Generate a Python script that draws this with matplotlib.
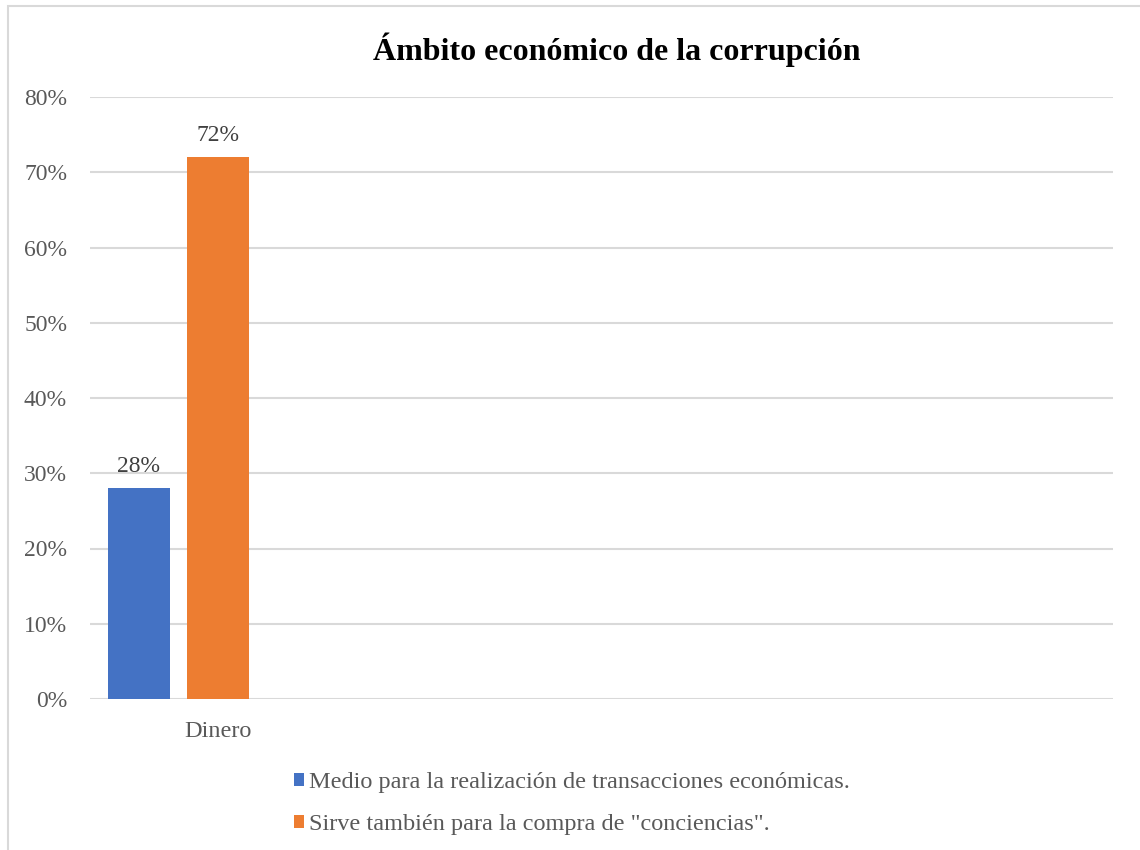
import matplotlib.pyplot as plt
from matplotlib.patches import Rectangle, Patch
from matplotlib.ticker import PercentFormatter

# Data
categories = ["Dinero"]
series_names = ["Medio para la realización de transacciones económicas.",
                "Sirve también para la compra de \"conciencias\"."]
series_values = [[0.28], [0.72]]
series_colors = ["#4472C4", "#ED7D31"]
title = "Ámbito económico de la corrupción"

plt.rcParams['font.family'] = ['Liberation Serif', 'DejaVu Serif']

fig = plt.figure(figsize=(11.4, 8.5), dpi=100)
ax = fig.add_axes([90 / 1140, 1 - 699 / 850, 1023 / 1140, 602 / 850])

# chart border (Excel-like frame)
fig.patches.append(Rectangle((8 / 1140, -0.1), 1.2, 1 - 6 / 850 + 0.1,
                             transform=fig.transFigure, fill=False,
                             edgecolor="#d9d9d9", linewidth=1.5))

bar_w = 0.242
offsets = [-0.309, 0.0]
for vals, off, col in zip(series_values, offsets, series_colors):
    xs = [i + off for i in range(len(categories))]
    bars = ax.bar(xs, vals, width=bar_w, color=col, zorder=3)
    for b, v in zip(bars, vals):
        ax.text(b.get_x() + b.get_width() / 2, v + 0.015, f"{v:.0%}",
                ha="center", va="bottom", fontsize=17, color="#404040")

ax.set_xlim(-0.5, 3.5)
ax.set_ylim(0, 0.8)
ax.set_yticks([i / 10 for i in range(9)])
ax.yaxis.set_major_formatter(PercentFormatter(1.0, decimals=0))
ax.set_xticks(range(len(categories)))
ax.set_xticklabels(categories)
ax.tick_params(axis="both", length=0, labelsize=17, labelcolor="#595959")
ax.tick_params(axis="y", pad=16.5)
ax.tick_params(axis="x", labelsize=17.5, pad=16)
ax.grid(axis="y", color="#d9d9d9", linewidth=1.5, zorder=0)
for s in ax.spines.values():
    s.set_visible(False)

fig.text(617 / 1140, 1 - 50 / 850, title, ha="center", va="center",
         fontsize=23, fontweight="bold", color="black")

handles = [Patch(facecolor=c) for c in series_colors]
fig.legend(handles, series_names, loc="upper left",
           bbox_to_anchor=(294 / 1140, 1 - 772 / 850), frameon=False,
           fontsize=17.5, labelcolor="#595959", handlelength=0.42,
           handleheight=0.42, handletextpad=0.2, labelspacing=0.88,
           borderpad=0, borderaxespad=0)

fig.savefig("out.png", dpi=100)
